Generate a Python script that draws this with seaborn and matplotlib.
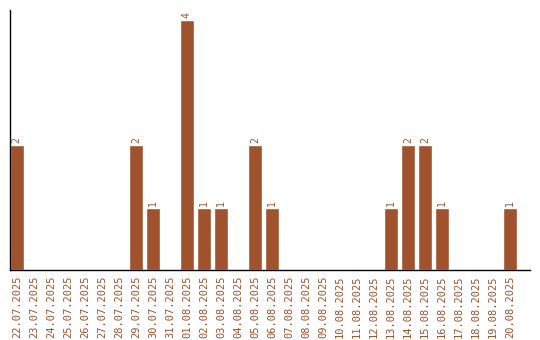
import matplotlib
matplotlib.use("Agg")
import matplotlib.pyplot as plt
import seaborn as sns
import pandas as pd

dates = ["22.07.2025", "23.07.2025", "24.07.2025", "25.07.2025", "26.07.2025",
         "27.07.2025", "28.07.2025", "29.07.2025", "30.07.2025", "31.07.2025",
         "01.08.2025", "02.08.2025", "03.08.2025", "04.08.2025", "05.08.2025",
         "06.08.2025", "07.08.2025", "08.08.2025", "09.08.2025", "10.08.2025",
         "11.08.2025", "12.08.2025", "13.08.2025", "14.08.2025", "15.08.2025",
         "16.08.2025", "17.08.2025", "18.08.2025", "19.08.2025", "20.08.2025"]
counts = [2, 0, 0, 0, 0, 0, 0, 2, 1, 0,
          4, 1, 1, 0, 2, 1, 0, 0, 0, 0,
          0, 0, 1, 2, 2, 1, 0, 0, 0, 1]

color = "#A0522D"
df = pd.DataFrame({"date": dates, "count": counts})

sns.set_style("white")
plt.rcParams['font.family'] = ['DejaVu Sans Mono', 'DejaVu Sans']

fig = plt.figure(figsize=(5.4, 3.4), dpi=100)
ax = fig.add_axes([10/540, 70/340, 520/540, 260/340])
sns.barplot(data=df, x="date", y="count", color=color, saturation=1, width=0.8, ax=ax)

for i, v in enumerate(counts):
    if v > 0:
        ax.text(i, v + 0.03, str(v), rotation=90, ha="center", va="bottom",
                fontsize=7, color=color)

ax.set_xlim(-0.4, 30.17)
ax.set_ylim(0, 4.16)
ax.set_xlabel("")
ax.set_ylabel("")
ax.set_yticks([])
ax.tick_params(axis="x", length=0, pad=4, labelsize=7.5, labelcolor=color, rotation=90)
for s in ["top", "right"]:
    ax.spines[s].set_visible(False)
for s in ["left", "bottom"]:
    ax.spines[s].set_color("black")
    ax.spines[s].set_linewidth(1)

fig.savefig("out.png", dpi=100)
